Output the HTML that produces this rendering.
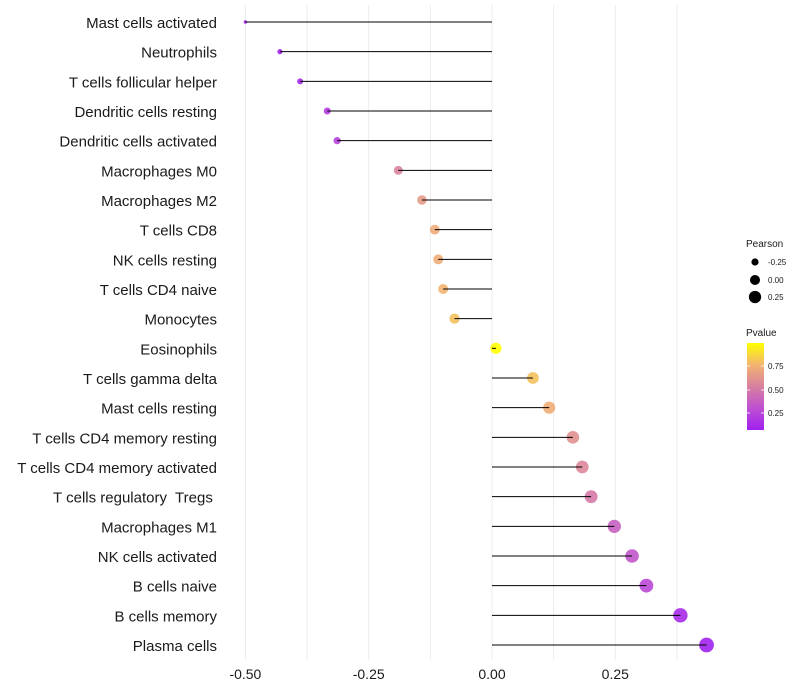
<!DOCTYPE html>
<html><head><meta charset="utf-8"><style>
body{margin:0;background:#fff;}
svg{display:block;font-family:"Liberation Sans",sans-serif;}
text{white-space:pre;}
</style></head><body>
<svg id="chart" width="800" height="700"></svg>
<script>
const categories=["Mast cells activated","Neutrophils","T cells follicular helper","Dendritic cells resting","Dendritic cells activated","Macrophages M0","Macrophages M2","T cells CD8","NK cells resting","T cells CD4 naive","Monocytes","Eosinophils","T cells gamma delta","Mast cells resting","T cells CD4 memory resting","T cells CD4 memory activated","T cells regulatory  Tregs ","Macrophages M1","NK cells activated","B cells naive","B cells memory","Plasma cells"];
const pearson=[-0.50,-0.43,-0.389,-0.334,-0.314,-0.190,-0.142,-0.116,-0.109,-0.099,-0.076,0.008,0.083,0.116,0.164,0.183,0.201,0.248,0.284,0.313,0.382,0.435];
const pvalue=[0.07,0.09,0.12,0.20,0.24,0.55,0.65,0.72,0.73,0.76,0.80,0.99,0.80,0.73,0.60,0.56,0.50,0.38,0.33,0.26,0.12,0.08];
const xTicks=[-0.5,-0.25,0,0.25];
const xTickLabels=["-0.50","-0.25","0.00","0.25"];
const xMinor=[-0.375,-0.125,0.125,0.375];

const NS="http://www.w3.org/2000/svg";
const svg=document.getElementById('chart');
const x0=492, scale=493.2;
const xs=v=>x0+v*scale;
const ys=i=>22+i*(623/21);
const rs=v=>Math.sqrt(Math.max(0.5,3+(v+0.5)*55));
const stops=[[0,[160,32,240]],[0.25,[190,80,210]],[0.5,[216,128,160]],[0.75,[242,180,112]],[1,[255,255,0]]];
function col(p){let t=(p-0.07)/(0.99-0.07);t=Math.max(0,Math.min(1,t));
 for(let k=1;k<stops.length;k++){if(t<=stops[k][0]){const a=stops[k-1],b=stops[k];const f=(t-a[0])/(b[0]-a[0]);
 const c=a[1].map((v,j)=>Math.round(v+(b[1][j]-v)*f));return `rgb(${c.join(',')})`;}}return 'rgb(255,255,0)';}
function mk(tag,attrs,parent){const e=document.createElementNS(NS,tag);for(const k in attrs)e.setAttribute(k,attrs[k]);(parent||svg).appendChild(e);return e;}

const grid=mk('g',{});


xTicks.concat(xMinor).forEach(v=>{const l=mk('line',{x1:xs(v),x2:xs(v),y1:5,y2:660,stroke:'#ebebeb','stroke-width':1},grid);
 
 });

categories.forEach((c,i)=>{
 const y=ys(i);
 const t=mk('text',{x:217,y:y+6,'text-anchor':'end','font-size':15,fill:'#1a1a1a'});
 t.textContent=c;
 
 
 const pt=mk('circle',{cx:xs(pearson[i]),cy:y,r:rs(pearson[i]),fill:col(pvalue[i]),'fill-opacity':0.9});
 
 
 const ln=mk('line',{x1:xs(0),x2:xs(pearson[i]),y1:y,y2:y,stroke:'#000','stroke-width':1});
 
 
});
xTicks.forEach((v,i)=>{const t=mk('text',{x:xs(v),y:679,'text-anchor':'middle','font-size':14,fill:'#1a1a1a'});
 t.textContent=xTickLabels[i];
 
 });

// legend
const lg=mk('g',{});


const lt=mk('text',{x:746,y:247,'font-size':10,fill:'#1a1a1a'},lg);lt.textContent='Pearson';


[[-0.25,262],[0,280],[0.25,297]].forEach(([v,y])=>{
 const c=mk('circle',{cx:755,cy:y,r:rs(v)-0.5,fill:'#000'},lg);
 
 
 const t=mk('text',{x:768,y:y+3,'font-size':8,fill:'#1a1a1a'},lg);t.textContent=(v<0?'-':'')+Math.abs(v).toFixed(2);
 
 });
const pt2=mk('text',{x:746,y:336,'font-size':10,fill:'#1a1a1a'},lg);pt2.textContent='Pvalue';


const defs=mk('defs',{});
const grad=mk('linearGradient',{id:'pg',x1:0,y1:1,x2:0,y2:0},defs);
stops.forEach(s=>mk('stop',{offset:s[0],'stop-color':`rgb(${s[1].join(',')})`},grad));
const bar=mk('rect',{x:747,y:343,width:17,height:87,fill:'url(#pg)'},lg);


[[0.75,366],[0.5,390],[0.25,413]].forEach(([v,y])=>{
 mk('line',{x1:747,x2:750,y1:y,y2:y,stroke:'#fff','stroke-width':0.8},lg);
 mk('line',{x1:761,x2:764,y1:y,y2:y,stroke:'#fff','stroke-width':0.8},lg);
 const t=mk('text',{x:768,y:y+3,'font-size':8,fill:'#1a1a1a'},lg);t.textContent=v.toFixed(2);
 
 });
</script>
</body></html>
